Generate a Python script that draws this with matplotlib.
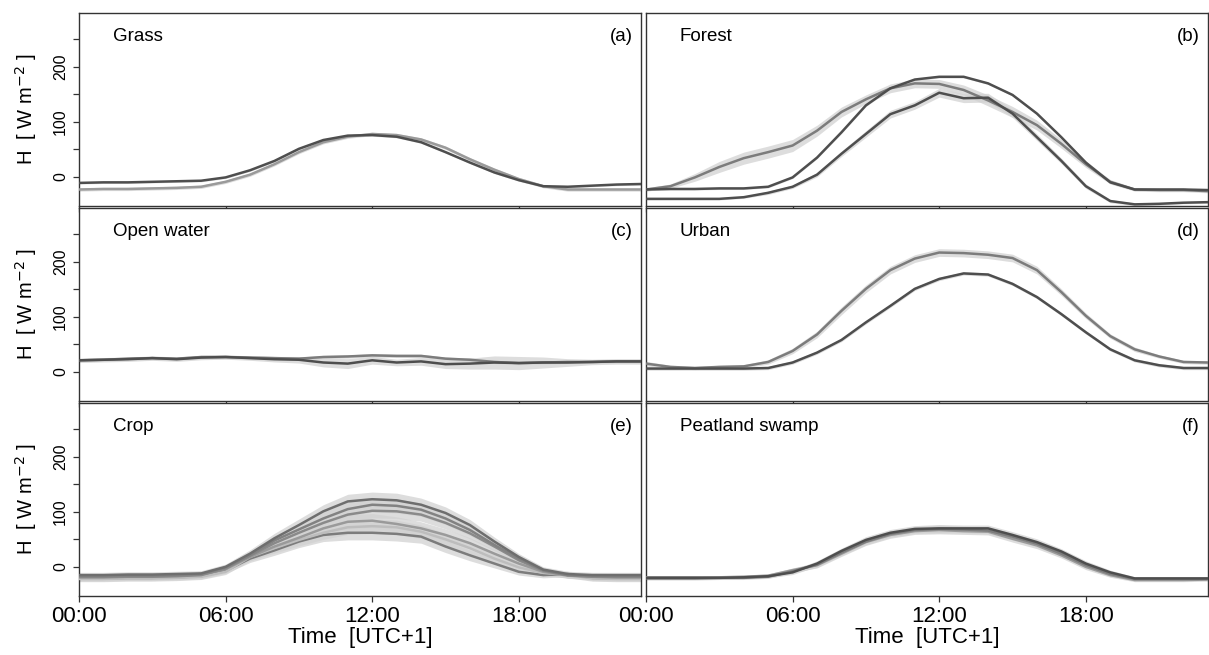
import numpy as np
import matplotlib
matplotlib.use("Agg")
import matplotlib.pyplot as plt

plt.rcParams['font.family'] = ['Liberation Sans', 'DejaVu Sans']

hours = list(range(24))
tick_hours = [0, 6, 12, 18]
tick_labels = ["00:00", "06:00", "12:00", "18:00"]
ytick_major = [0, 100, 200]
ytick_minor = [50, 150, 250]

panel_names = ["Grass", "Forest", "Open water", "Urban", "Crop", "Peatland swamp"]
panel_tags = ["(a)", "(b)", "(c)", "(d)", "(e)", "(f)"]

# ---- Grass ----
grass_dark = [-11, -10, -10, -9, -8, -7, -1, 12, 29, 51, 67, 75, 76, 73, 63, 45, 26, 8, -6, -17, -18, -16, -14, -13]
grass_light = [-23, -22, -22, -21, -20, -18, -9, 4, 23, 45, 63, 73, 78, 76, 68, 53, 32, 13, -4, -17, -23, -23, -23, -23]
grass_dark_sd = [2] * 24
grass_light_sd = [3] * 24

# ---- Forest ----
forest_a = [-23, -17, -1, 18, 34, 45, 57, 84, 118, 141, 161, 170, 169, 158, 139, 118, 94, 60, 23, -9, -23, -24, -24, -26]
forest_b = [-23, -22, -22, -21, -21, -18, -1, 35, 81, 130, 161, 177, 182, 182, 170, 149, 115, 72, 26, -10, -23, -23, -23, -24]
forest_c = [-40, -40, -40, -40, -37, -29, -18, 4, 42, 78, 114, 130, 153, 143, 144, 115, 72, 29, -17, -44, -50, -49, -47, -46]
forest_a_sd = [3, 4, 7, 10, 11, 11, 11, 10, 9, 8, 8, 8, 8, 9, 10, 10, 9, 8, 6, 4, 3, 3, 3, 3]
forest_b_sd = [2] * 24
forest_c_sd = [2, 2, 2, 2, 2, 3, 3, 4, 5, 6, 7, 7, 8, 8, 8, 7, 6, 5, 4, 3, 2, 2, 2, 2]

# ---- Open water ----
water_dark = [21, 22, 23, 25, 23, 26, 27, 25, 23, 22, 17, 15, 21, 17, 19, 14, 15, 17, 16, 17, 17, 18, 19, 19]
water_light = [21, 22, 24, 25, 24, 27, 27, 26, 25, 24, 27, 28, 30, 29, 29, 24, 22, 18, 16, 17, 18, 18, 19, 19]
water_dark_sd = [4, 4, 4, 4, 4, 4, 4, 4, 5, 6, 8, 9, 7, 6, 7, 8, 10, 12, 12, 10, 7, 5, 5, 5]
water_light_sd = [3] * 24

# ---- Urban ----
urban_light = [15, 9, 7, 9, 10, 18, 38, 68, 111, 151, 185, 206, 217, 216, 213, 207, 185, 145, 102, 65, 41, 28, 18, 17]
urban_dark = [6, 6, 6, 6, 6, 7, 17, 35, 58, 90, 120, 151, 169, 179, 177, 160, 136, 105, 72, 41, 21, 12, 7, 7]
urban_light_sd = [4, 3, 3, 3, 3, 4, 5, 6, 7, 7, 7, 7, 7, 7, 7, 7, 7, 6, 5, 4, 4, 3, 3, 3]
urban_dark_sd = [3] * 24

# ---- Crop ----
crop_1 = [-15, -15, -14, -14, -13, -12, 0, 24, 52, 76, 101, 119, 123, 121, 113, 98, 76, 46, 18, -5, -13, -15, -15, -15]
crop_2 = [-17, -17, -16, -16, -15, -13, -1, 21, 48, 68, 88, 105, 113, 111, 104, 88, 67, 40, 15, -6, -15, -16, -17, -17]
crop_3 = [-19, -19, -18, -18, -17, -15, -3, 20, 43, 62, 80, 95, 102, 101, 95, 80, 61, 37, 12, -7, -15, -18, -19, -19]
crop_4 = [-18, -18, -17, -17, -16, -14, -4, 18, 37, 53, 70, 82, 84, 78, 70, 58, 43, 24, 6, -9, -16, -18, -18, -18]
crop_5 = [-21, -21, -20, -20, -19, -17, -7, 15, 30, 46, 58, 62, 62, 60, 55, 37, 21, 6, -9, -15, -13, -20, -21, -21]
crop_6 = [-22, -22, -21, -21, -20, -18, -9, 18, 34, 49, 62, 72, 74, 72, 64, 50, 34, 15, -1, -11, -15, -21, -22, -22]
crop_sd = [5, 5, 5, 5, 5, 5, 5, 7, 9, 11, 12, 13, 13, 13, 12, 11, 10, 8, 6, 5, 5, 5, 5, 5]

# ---- Peatland swamp ----
peat_dark = [-20, -20, -20, -20, -19, -17, -10, 6, 29, 49, 62, 69, 70, 70, 70, 58, 45, 28, 6, -10, -21, -21, -21, -21]
peat_2 = [-19, -19, -19, -19, -18, -16, -6, 3, 24, 45, 58, 65, 67, 65, 64, 51, 39, 21, 0, -15, -24, -24, -24, -23]
peat_3 = [-21, -21, -21, -20, -20, -18, -8, 4, 26, 46, 60, 67, 69, 68, 66, 55, 42, 24, 3, -13, -22, -22, -22, -22]
peat_sd = [3, 3, 3, 3, 3, 3, 4, 5, 5, 6, 6, 6, 7, 6, 6, 6, 6, 5, 5, 4, 3, 3, 3, 3]

DARK = "#4e4e4e"
MID = "#7c7c7c"
LIGHT = "#9a9a9a"
RIB = "#d2d2d2"

panels = [
    [(grass_light, grass_light_sd, LIGHT), (grass_dark, grass_dark_sd, DARK)],
    [(forest_a, forest_a_sd, MID), (forest_c, forest_c_sd, DARK), (forest_b, forest_b_sd, DARK)],
    [(water_light, water_light_sd, MID), (water_dark, water_dark_sd, DARK)],
    [(urban_light, urban_light_sd, MID), (urban_dark, urban_dark_sd, DARK)],
    [(crop_5, crop_sd, MID), (crop_6, crop_sd, "#bdbdbd"), (crop_4, crop_sd, "#9a9a9a"),
     (crop_3, crop_sd, "#8a8a8a"), (crop_2, crop_sd, "#828282"), (crop_1, crop_sd, "#6e6e6e")],
    [(peat_2, peat_sd, LIGHT), (peat_3, peat_sd, MID), (peat_dark, peat_sd, DARK)],
]

W, H = 1209, 655
fig = plt.figure(figsize=(W / 100, H / 100), dpi=100)

col_x = [79, 646]
col_w = [562, 562]
row_top = [13, 208, 403]
row_h = 193

x = np.array(hours)
for i, series in enumerate(panels):
    r, c = divmod(i, 2)
    ax = fig.add_axes([col_x[c] / W, (H - row_top[r] - row_h) / H, col_w[c] / W, row_h / H])
    for vals, sd, col in series:
        v = np.array(vals, float)
        s = np.array(sd, float)
        ax.fill_between(x, v - s, v + s, color=RIB, alpha=0.75, lw=0, zorder=1)
    for vals, sd, col in series:
        ax.plot(x, vals, color=col, lw=1.8, zorder=3)
    ax.set_xlim(0, 23)
    ax.set_ylim(-53, 298)
    ax.set_xticks(tick_hours)
    ax.tick_params(axis='x', direction='out', length=4, width=0.9, color="#333333")
    if r == 2:
        ax.set_xticklabels(tick_labels, fontsize=16)
        ax.set_xlabel("Time  [UTC+1]", fontsize=16, labelpad=0)
    else:
        ax.set_xticklabels([])
    if c == 0:
        ax.set_yticks(ytick_major)
        ax.set_yticks(ytick_minor, minor=True)
        ax.set_yticklabels([str(t) for t in ytick_major], rotation=90, va='center', fontsize=11.5)
        ax.tick_params(axis='y', which='both', direction='out', length=4, width=0.9, color="#333333", pad=4)
        ax.set_ylabel(r"H  [ W m$^{-2}$ ]", fontsize=14.5)
        ax.yaxis.set_label_coords(-0.071, 0.5)
    else:
        ax.set_yticks([])
    for sp in ax.spines.values():
        sp.set_color("#333333")
        sp.set_linewidth(1.0)
    ax.text(0.06, 0.88, panel_names[i], transform=ax.transAxes, fontsize=13.5, va='center', ha='left')
    ax.text(0.985, 0.88, panel_tags[i], transform=ax.transAxes, fontsize=13.5, va='center', ha='right')

fig.savefig("out.png", dpi=100)
